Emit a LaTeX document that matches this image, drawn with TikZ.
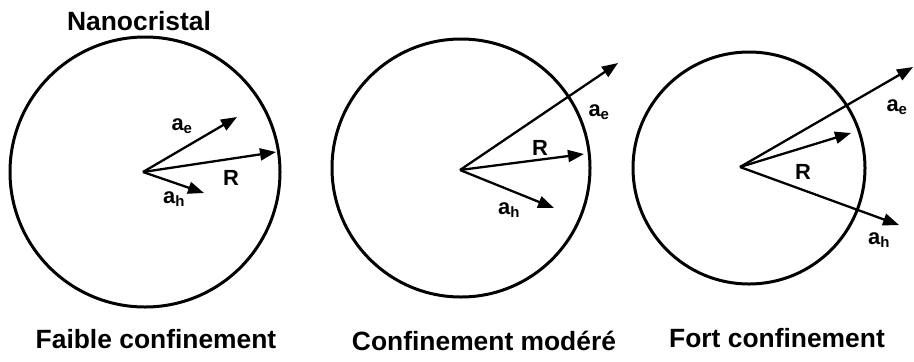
\documentclass[tikz,border=0pt]{standalone}
\usepackage{fontspec}
\setmainfont{Liberation Sans}
\usetikzlibrary{arrows.meta}
\tikzset{
  ring/.style={line width=3bp},
  vec/.style={line width=2.3bp, -{Triangle[length=16bp,width=12bp]}},
  title/.style={font=\fontsize{26.5}{28}\selectfont\bfseries, inner sep=0pt},
  lab/.style={font=\fontsize{22}{24}\selectfont\bfseries, inner sep=0pt},
}
\newcommand{\sub}[1]{\textsubscript{\fontsize{15}{16}\selectfont #1}}
\begin{document}
\begin{tikzpicture}[x=1bp,y=-1bp]
\useasboundingbox (0,0) rectangle (914,361);
% centres
\coordinate (c1) at (145,172);
\coordinate (c2) at (461,168);
\coordinate (c3) at (749,168);
\draw[ring] (c1) circle[radius=135];
\draw[ring] (c2) circle[radius=129];
\draw[ring] (c3) circle[radius=116];
% origins and tips
\coordinate (o1) at (143,172);
\coordinate (e1) at (237,117);
\coordinate (r1) at (276,152);
\coordinate (h1) at (204,193);
\coordinate (o2) at (460,170);
\coordinate (e2) at (618,63);
\coordinate (r2) at (584,154);
\coordinate (h2) at (554,208);
\coordinate (o3) at (740,167);
\coordinate (e3) at (913,67);
\coordinate (r3) at (851,133);
\coordinate (h3) at (899,225);
\draw[vec] (o1) -- (e1);
\draw[vec] (o1) -- (r1);
\draw[vec] (o1) -- (h1);
\draw[vec] (o2) -- (e2);
\draw[vec] (o2) -- (r2);
\draw[vec] (o2) -- (h2);
\draw[vec] (o3) -- (e3);
\draw[vec] (o3) -- (r3);
\draw[vec] (o3) -- (h3);
% labels
\node[lab] (le1) at (182,126) {a\sub{e}};
\node[lab] (lr1) at (231,178) {R};
\node[lab] (lh1) at (174,199) {a\sub{h}};
\node[lab] (le2) at (599,112) {a\sub{e}};
\node[lab] (lr2) at (540,148) {R};
\node[lab] (lh2) at (509,210) {a\sub{h}};
\node[lab] (le3) at (897,107) {a\sub{e}};
\node[lab] (lr3) at (803,172) {R};
\node[lab] (lh3) at (879,240) {a\sub{h}};
% titles
\node[title] (nano) at (139,21) {Nanocristal};
\node[title] (t1) at (156,339) {Faible confinement};
\node[title] (t2) at (484,341) {Confinement modéré};
\node[title] (t3) at (777,338) {Fort confinement};
\end{tikzpicture}
\end{document}
